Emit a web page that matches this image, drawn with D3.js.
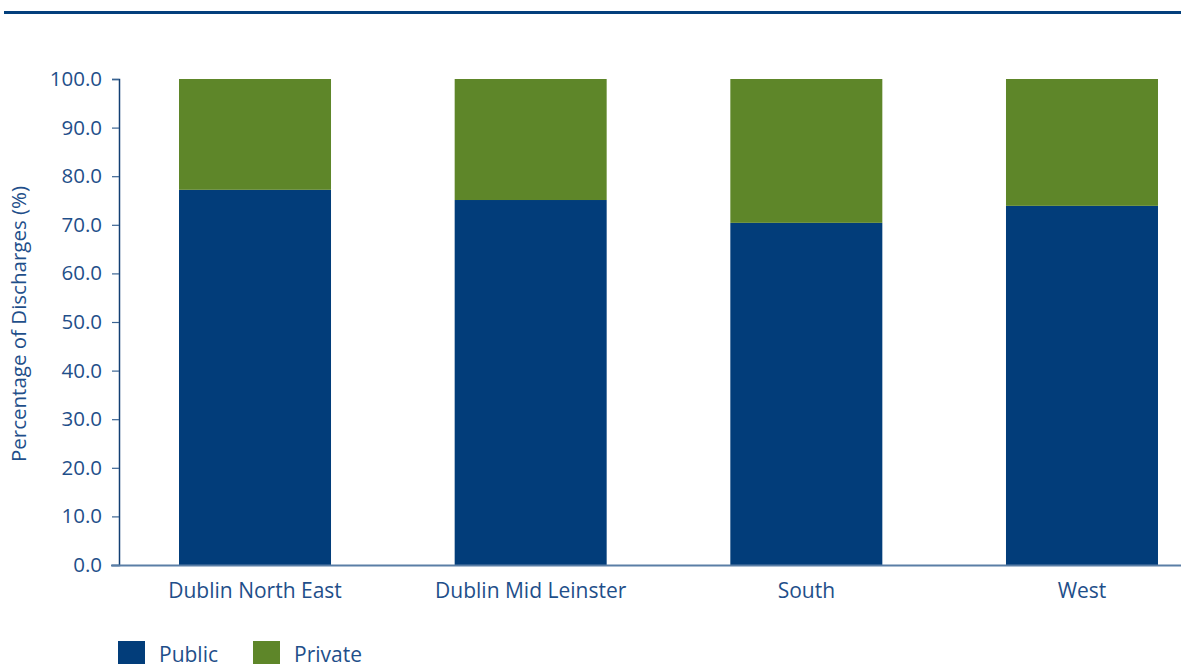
<!DOCTYPE html>
<html>
<head>
<meta charset="utf-8">
<script src="https://cdn.jsdelivr.net/npm/d3@7/dist/d3.min.js"></script>
<style>
  html, body { margin: 0; padding: 0; background: #fff; }
  svg { display: block; }
  text { font-family: "Open Sans", "Noto Sans", sans-serif; fill: #1f4f8a; }
</style>
</head>
<body>
<svg id="chart" width="1181" height="664"></svg>
<script>
// Share of hospital discharges by region, split public / private
const regions = ["Dublin North East", "Dublin Mid Leinster", "South", "West"];
const publicPct = [77.2, 75.1, 70.4, 73.9];
const privatePct = [22.8, 24.9, 29.6, 26.1];
const seriesNames = ["Public", "Private"];
const seriesColors = ["#023d7a", "#5e8629"];
const yTicks = [0, 10, 20, 30, 40, 50, 60, 70, 80, 90, 100];

const W = 1181, H = 664;
const FONT = "'Open Sans', 'Noto Sans', sans-serif";
const svg = d3.select("#chart");

// header rule
svg.append("line")
  .attr("x1", 4).attr("x2", W)
  .attr("y1", 12.5).attr("y2", 12.5)
  .attr("stroke", "#033f7c").attr("stroke-width", 3);

const x0 = 119, yTop = 79, yBottom = 565;

const x = d3.scaleBand()
  .domain(regions)
  .range([x0, 1218])
  .paddingInner(0.4486)
  .paddingOuter(0.2177)
  .align(0.5);

const y = d3.scaleLinear().domain([0, 100]).range([yBottom, yTop]);

const rows = regions.map((r, i) => ({ region: r, Public: publicPct[i], Private: privatePct[i] }));
const stack = d3.stack().keys(seriesNames)(rows);

const color = d3.scaleOrdinal().domain(seriesNames).range(seriesColors);

svg.append("g")
  .selectAll("g")
  .data(stack)
  .join("g")
  .attr("fill", d => color(d.key))
  .selectAll("rect")
  .data(d => d)
  .join("rect")
  .attr("x", d => x(d.data.region))
  .attr("width", x.bandwidth())
  .attr("y", d => y(Math.min(100, d[1])))
  .attr("height", d => y(d[0]) - y(Math.min(100, d[1])));

// y axis
const yAxis = svg.append("g")
  .attr("transform", `translate(${x0},0)`)
  .call(d3.axisLeft(y).tickValues(yTicks).tickFormat(d3.format(".1f")).tickSize(7).tickPadding(10));
yAxis.select(".domain").attr("stroke", "#123f73").attr("stroke-width", 1.5);
yAxis.selectAll(".tick line").attr("stroke", "#3a6493").attr("stroke-width", 1.2);
yAxis.selectAll(".tick text")
  .style("font-size", "20.5px")
  .style("font-family", FONT)
  .attr("fill", "#1f4f8a");

// x axis
const xAxis = svg.append("g")
  .attr("transform", `translate(0,${yBottom})`)
  .call(d3.axisBottom(x).tickSize(0).tickPadding(18));
xAxis.select(".domain").remove();
svg.append("line")
  .attr("x1", x0 - 8).attr("x2", W)
  .attr("y1", yBottom + 0.5).attr("y2", yBottom + 0.5)
  .attr("stroke", "#5a7ea6").attr("stroke-width", 1.8);
xAxis.selectAll(".tick text")
  .style("font-size", "21px")
  .style("font-family", FONT)
  .attr("fill", "#1f4f8a");

// y axis title
svg.append("text")
  .attr("transform", `translate(26,${(yTop + yBottom) / 2 + 2}) rotate(-90)`)
  .attr("text-anchor", "middle")
  .style("font-size", "20.5px")
  .text("Percentage of Discharges (%)");

// legend
const legend = svg.append("g").attr("transform", "translate(118,641)");
const items = legend.selectAll("g")
  .data(seriesNames)
  .join("g")
  .attr("transform", (d, i) => `translate(${i * 135},0)`);
items.append("rect").attr("width", 27).attr("height", 23).attr("fill", d => color(d));
items.append("text")
  .attr("x", 41).attr("y", 21)
  .style("font-size", "21px")
  .text(d => d);
</script>
</body>
</html>
